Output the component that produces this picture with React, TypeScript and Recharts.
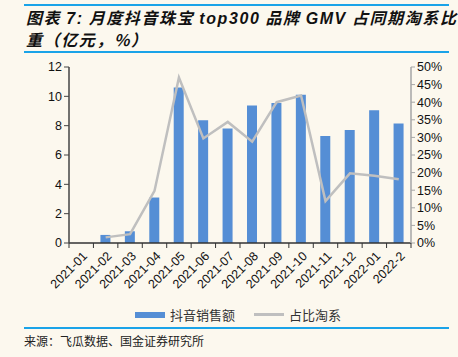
import React from 'react';
import { ComposedChart, Bar, Line, XAxis, YAxis } from 'recharts';

const categories = ['2021-01','2021-02','2021-03','2021-04','2021-05','2021-06','2021-07','2021-08','2021-09','2021-10','2021-11','2021-12','2022-01','2022-2'];
const salesValues: (number | null)[] = [null, 0.55, 0.8, 3.1, 10.6, 8.37, 7.8, 9.37, 9.55, 10.1, 7.3, 7.7, 9.05, 8.14];
const shareValues: (number | null)[] = [null, 1.6, 2.5, 14.8, 47, 29.7, 34.4, 28.8, 40, 41.9, 11.9, 19.8, 19.1, 18.1];
const leftTicks = [0, 2, 4, 6, 8, 10, 12];
const rightTicks = [0, 5, 10, 15, 20, 25, 30, 35, 40, 45, 50];

const data = categories.map((c, i) => ({ cat: c, sales: salesValues[i], share: shareValues[i] }));

const W = 458;
const H = 357;
const BG = '#FCF8EE';
const BAR = '#558ED5';
const LINE = '#BFBFBF';
const FONT = 'Arial, "Liberation Sans", "Noto Sans CJK SC", sans-serif';
const PLOT_LEFT = 69;
const PLOT_RIGHT = 411;
const BAND = (PLOT_RIGHT - PLOT_LEFT) / categories.length;

const XTick = (props: any) => {
  const { x, y, payload, index } = props;
  return (
    <g>
      <line x1={x - BAND / 2} x2={x - BAND / 2} y1={y - 8} y2={y - 3} stroke="#333" strokeWidth={1} />
      {index === categories.length - 1 && (
        <line x1={x + BAND / 2} x2={x + BAND / 2} y1={y - 8} y2={y - 3} stroke="#333" strokeWidth={1} />
      )}
      <text
        x={x + 4}
        y={y + 3}
        transform={`rotate(-45, ${x + 4}, ${y + 3})`}
        textAnchor="end"
        fontSize={12.5}
        fill="#111"
        fontFamily={FONT}
        dominantBaseline="central"
      >
        {payload.value}
      </text>
    </g>
  );
};

const latin = { fontFamily: 'Arial, "Liberation Sans"', margin: '0 5px' };

export default function App() {
  return (
    <div style={{ position: 'absolute', left: 0, top: 0, width: W, height: H, background: BG, overflow: 'hidden' }}>
      <div style={{ position: 'absolute', left: 24, top: 4, width: 425, height: 2, background: '#1AA3E8' }} />
      <div style={{ position: 'absolute', left: 24, top: 51, width: 425, height: 2, background: '#1AA3E8' }} />
      <div style={{ position: 'absolute', left: 26, top: 7, fontFamily: '"Noto Sans CJK SC", sans-serif', fontStyle: 'italic', fontWeight: 'bold', fontSize: 16, lineHeight: '21px', color: '#111', whiteSpace: 'nowrap' }}>
        <div style={{ letterSpacing: 1.6 }}>图表<span style={latin}>7:</span>月度抖音珠宝<span style={latin}>top300</span>品牌<span style={latin}>GMV</span>占同期淘系比</div>
        <div style={{ letterSpacing: 1.6 }}>重（亿元，%）</div>
      </div>
      <ComposedChart
        width={W}
        height={H}
        data={data}
        margin={{ top: 67, left: 29, right: 0, bottom: 54 }}
        style={{ position: 'absolute', left: 0, top: 0 }}
        barCategoryGap={0}
      >
        <XAxis
          dataKey="cat"
          height={60}
          interval={0}
          tickLine={false}
          axisLine={{ stroke: '#333', strokeWidth: 1.5 }}
          tick={<XTick />}
        />
        <YAxis
          yAxisId="left"
          width={40}
          domain={[0, 12]}
          ticks={leftTicks}
          interval={0}
          tickSize={5}
          axisLine={{ stroke: '#444', strokeWidth: 1.5 }}
          tickLine={{ stroke: '#444' }}
          tick={{ fontSize: 12.5, fill: '#111', fontFamily: FONT }}
        />
        <YAxis
          yAxisId="right"
          orientation="right"
          width={47}
          domain={[0, 50]}
          ticks={rightTicks}
          interval={0}
          tickSize={4}
          axisLine={{ stroke: '#A6A6A6', strokeWidth: 1.5 }}
          tickLine={{ stroke: '#A6A6A6' }}
          tickFormatter={(v: number) => `${v}%`}
          tick={{ fontSize: 12.5, fill: '#111', fontFamily: FONT }}
        />
        <Bar yAxisId="left" dataKey="sales" fill={BAR} barSize={10} isAnimationActive={false} />
        <Line yAxisId="right" dataKey="share" stroke={LINE} strokeWidth={2.5} dot={false} isAnimationActive={false} />
      </ComposedChart>
      <div style={{ position: 'absolute', left: 135, top: 305, display: 'flex', alignItems: 'center', fontFamily: '"Noto Sans CJK SC", sans-serif', fontSize: 13, color: '#333', whiteSpace: 'nowrap' }}>
        <div style={{ width: 30, height: 6, background: BAR, marginRight: 5 }} />
        <span>抖音销售额</span>
        <div style={{ width: 30, height: 3, background: LINE, marginLeft: 19, marginRight: 5 }} />
        <span>占比淘系</span>
      </div>
      <div style={{ position: 'absolute', left: 24, top: 327, width: 425, height: 2, background: '#1AA3E8' }} />
      <div style={{ position: 'absolute', left: 24, top: 332, fontFamily: '"Noto Sans CJK SC", sans-serif', fontSize: 12, color: '#222', whiteSpace: 'nowrap' }}>
        来源：飞瓜数据、国金证券研究所
      </div>
    </div>
  );
}
